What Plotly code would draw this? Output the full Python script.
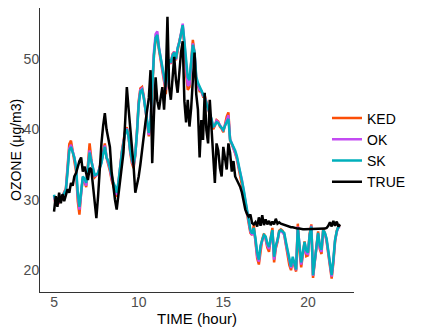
import plotly.graph_objects as go

# time axis: every 6 minutes from 5:00 to 21:54
TIME = [round(5.0 + 0.1 * i, 1) for i in range(170)]

TRUE = [28.3, 30.5, 29.0, 31.0, 29.5, 30.8, 29.8, 30.5, 31.5, 31.0,
        32.4, 32.0, 33.3, 33.8, 34.7, 35.5, 36.0, 34.0, 34.7, 33.5,
        32.8, 34.5, 34.3, 32.0, 30.0, 27.4, 30.5, 35.0, 38.0, 40.5,
        42.3, 40.0, 38.9, 37.5, 34.0, 31.5, 30.0, 28.6, 30.5, 32.8,
        34.5, 36.7, 41.0, 46.0, 43.0, 40.4, 37.0, 34.7, 31.0, 32.0,
        33.3, 35.0, 36.7, 39.0, 41.0, 42.8, 44.5, 48.4, 35.2, 42.0,
        47.4, 44.0, 42.8, 44.5, 46.0, 42.8, 47.0, 56.0, 46.0, 44.2,
        47.5, 50.3, 47.0, 45.2, 48.0, 50.9, 52.5, 44.0, 41.0, 44.2,
        40.4, 43.0, 47.0, 50.9, 45.0, 42.8, 36.0, 41.3, 38.5, 45.2,
        39.9, 38.0, 44.2, 40.4, 35.0, 32.4, 38.0, 37.0, 34.5, 33.3,
        37.5, 36.0, 34.3, 38.0, 36.7, 34.0, 35.5, 33.3, 32.8, 32.5,
        31.8, 31.0, 29.5, 28.6, 28.0, 27.6, 27.9, 26.7, 26.5, 26.8,
        26.2, 27.5, 26.3, 27.8, 26.4, 27.2, 26.5, 27.0, 26.4, 26.9,
        26.5, 27.3, 26.6, 26.8, 26.6, 26.5, 26.4, 26.3, 26.3, 26.2,
        26.1, 26.1, 26.0, 26.0, 25.9, 25.9, 25.8, 25.8, 25.8, 25.8,
        25.8, 25.8, 25.8, 25.8, 25.8, 25.8, 25.8, 25.8, 25.8, 25.9,
        25.9, 26.0, 26.3, 26.8, 26.2, 27.0, 26.3, 26.9, 26.2, 26.5]

SK = [30.7, 29.6, 30.2, 29.8, 30.0, 30.5, 31.0, 31.4, 34.0, 37.0,
      37.5, 36.8, 36.0, 34.7, 31.0, 29.0, 31.5, 33.3, 33.0, 32.4,
      34.5, 36.7, 35.5, 34.3, 33.5, 33.6, 33.8, 34.5, 35.2, 36.5,
      37.5, 36.0, 35.5, 34.5, 33.3, 32.5, 31.9, 31.0, 32.5, 34.7,
      36.5, 38.0, 39.5, 40.0, 39.0, 37.0, 35.7, 35.0, 36.5, 39.5,
      43.5, 45.4, 45.6, 44.5, 42.8, 41.0, 39.5, 41.3, 46.5, 50.5,
      53.0, 53.4, 51.5, 50.3, 49.0, 47.5, 46.0, 48.5, 49.9, 49.5,
      50.5, 50.9, 50.0, 51.5, 52.3, 53.5, 54.8, 52.5, 49.5, 47.4,
      47.0, 49.5, 52.0, 51.0, 47.5, 46.6, 46.0, 45.6, 45.0, 44.5,
      43.8, 43.0, 42.3, 41.5, 40.4, 40.6, 41.0, 40.9, 40.5, 40.2,
      39.9, 40.5, 41.0, 41.5, 38.5, 38.0, 37.5, 37.0, 36.2, 35.0,
      34.0, 33.0, 31.5, 30.0, 28.5, 27.0, 25.7, 25.2, 26.0, 24.5,
      22.5, 21.5, 23.5, 24.3, 25.0, 24.8, 23.8, 23.3, 24.5, 25.7,
      21.9, 23.5, 24.3, 25.5, 25.7, 25.5, 25.3, 24.0, 22.9, 21.5,
      20.5, 21.9, 21.0, 20.1, 26.0, 23.0, 21.1, 22.5, 24.0, 22.8,
      22.5, 25.0, 26.2, 19.3, 21.5, 24.0, 25.3, 23.5, 22.9, 25.7,
      25.3, 24.5, 22.9, 21.0, 19.3, 21.5, 24.3, 25.5, 26.2, 26.2]

OK = [30.5, 29.4, 30.2, 29.7, 30.0, 30.6, 31.0, 31.5, 34.3, 37.3,
      37.8, 36.9, 36.0, 34.5, 30.6, 28.6, 31.3, 33.2, 32.8, 32.0,
      34.6, 37.0, 35.6, 34.2, 33.4, 33.5, 33.8, 34.6, 35.3, 36.6,
      37.7, 36.1, 35.4, 34.4, 33.1, 32.3, 31.6, 30.7, 32.3, 34.7,
      36.6, 38.1, 39.6, 40.1, 39.0, 36.9, 35.5, 34.8, 36.4, 39.6,
      43.7, 45.6, 45.8, 44.6, 42.7, 40.8, 39.2, 41.2, 46.7, 51.0,
      53.5, 53.9, 51.6, 50.2, 48.8, 47.2, 45.6, 48.4, 49.9, 49.4,
      50.6, 51.0, 49.9, 51.6, 52.4, 53.6, 55.0, 52.3, 48.8, 46.2,
      46.4, 49.3, 52.2, 50.8, 47.2, 46.4, 45.6, 45.5, 44.8, 44.6,
      43.9, 43.0, 42.2, 41.4, 40.3, 40.6, 41.2, 41.0, 40.5, 40.2,
      39.8, 40.7, 41.3, 42.0, 38.6, 38.0, 37.4, 36.8, 36.0, 34.8,
      33.8, 32.8, 31.3, 29.8, 28.3, 26.8, 25.5, 25.0, 25.8, 24.2,
      22.0, 21.2, 23.3, 24.2, 24.9, 24.6, 23.5, 23.0, 24.4, 25.6,
      21.5, 23.3, 24.2, 25.4, 25.6, 25.4, 25.1, 23.7, 22.5, 21.0,
      20.3, 21.6, 20.8, 20.0, 26.2, 22.8, 20.8, 22.3, 23.9, 22.4,
      22.3, 24.9, 26.3, 19.2, 21.3, 23.9, 25.2, 23.2, 22.6, 25.6,
      25.2, 24.3, 22.6, 20.7, 19.1, 21.3, 24.2, 25.4, 26.1, 26.1]

KED = [30.6, 29.2, 30.1, 29.6, 29.9, 30.6, 31.1, 31.6, 34.8, 37.9,
       38.4, 37.0, 35.8, 34.0, 29.8, 27.9, 31.0, 33.0, 32.6, 31.8,
       35.0, 38.0, 35.8, 34.0, 33.2, 33.4, 33.7, 34.7, 35.5, 36.8,
       38.0, 36.0, 35.2, 34.1, 32.8, 32.0, 31.3, 30.4, 32.0, 34.8,
       36.8, 38.3, 39.8, 40.3, 39.0, 36.7, 35.2, 34.5, 36.3, 39.8,
       44.0, 45.8, 46.0, 44.7, 42.6, 40.6, 39.0, 41.0, 46.5, 50.5,
       52.8, 53.0, 51.3, 49.9, 48.4, 46.8, 45.0, 48.2, 49.8, 49.3,
       50.7, 51.0, 49.8, 51.5, 52.5, 53.5, 54.6, 51.8, 47.8, 45.6,
       46.0, 49.5, 52.7, 50.8, 46.8, 46.2, 45.4, 45.4, 44.7, 44.8,
       44.0, 43.0, 42.0, 41.2, 40.0, 40.5, 41.3, 41.1, 40.4, 40.1,
       39.6, 41.0, 41.8, 42.4, 38.4, 37.9, 37.3, 36.6, 35.8, 34.5,
       33.5, 32.5, 31.0, 29.6, 28.0, 26.5, 25.3, 25.0, 26.4, 24.0,
       21.7, 20.8, 23.1, 24.4, 25.2, 24.4, 23.2, 22.6, 24.6, 26.0,
       21.1, 23.1, 24.0, 25.6, 25.8, 25.6, 25.0, 23.4, 22.2, 20.7,
       20.0, 21.4, 20.6, 19.8, 26.6, 22.6, 20.4, 22.1, 24.1, 22.0,
       22.1, 25.2, 26.5, 18.9, 21.1, 23.8, 25.5, 23.0, 22.3, 25.9,
       25.2, 24.1, 22.4, 20.5, 18.8, 21.0, 24.0, 25.6, 26.2, 26.1]

series = [('KED', KED, '#FC4E07'),
          ('OK', OK, '#C34BF2'),
          ('SK', SK, '#00AFBB'),
          ('TRUE', TRUE, '#000000')]

traces = [go.Scatter(x=TIME, y=vals, name=name, mode='lines',
                     line=dict(color=col, width=2.5))
          for name, vals, col in series]

axis_style = dict(showgrid=False, zeroline=False, showline=True,
                  linecolor='#333333', linewidth=1, ticks='',
                  automargin=False, ticklabelstandoff=-3,
                  tickfont=dict(size=14, color='#4D4D4D'))

# the page body adds an 8px offset, so the figure is a bit smaller
layout = go.Layout(
    width=417, height=321,
    margin=dict(l=32, r=71, t=0, b=37),
    paper_bgcolor='white', plot_bgcolor='white',
    font=dict(family='Liberation Sans, Arial, sans-serif', color='black'),
    showlegend=True,
    legend=dict(x=0.914, y=0.5, xanchor='left', yanchor='middle',
                font=dict(size=14), itemwidth=30,
                bgcolor='rgba(0,0,0,0)'),
    xaxis=dict(range=[4.17, 22.72], tickvals=[5, 10, 15, 20], **axis_style),
    yaxis=dict(range=[16.9, 57.23], tickvals=[20, 30, 40, 50], **axis_style),
    annotations=[
        dict(text='TIME (hour)', xref='paper', yref='paper', x=0.5, y=0,
             yshift=-26, xanchor='center', yanchor='middle',
             showarrow=False, font=dict(size=15)),
        dict(text='OZONE (μg/m3)', xref='paper', yref='paper', x=0, y=0.5,
             xshift=-24, xanchor='center', yanchor='middle', textangle=-90,
             showarrow=False, font=dict(size=14)),
    ],
)

fig = go.Figure(data=traces, layout=layout)
fig.write_html("out.html")
